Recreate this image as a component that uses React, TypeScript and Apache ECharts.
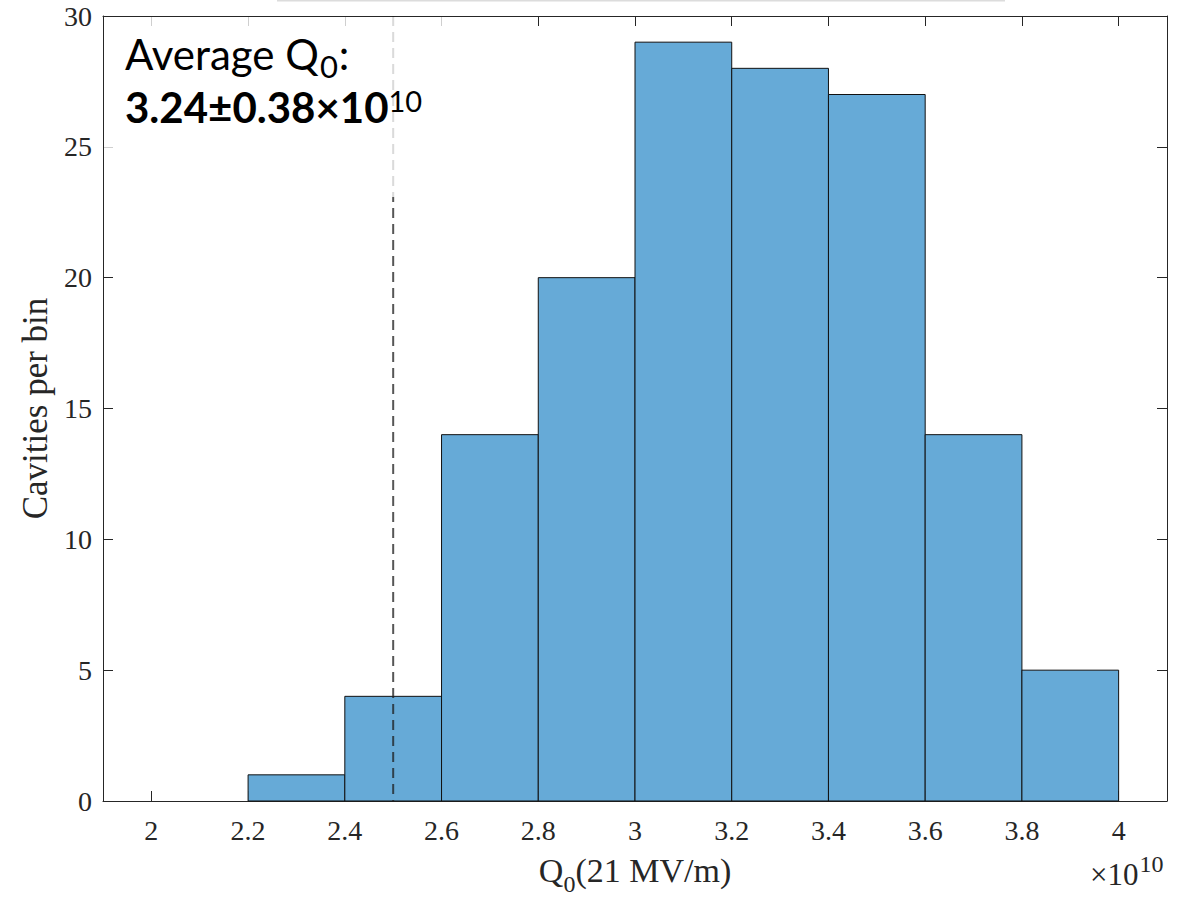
import React, { useEffect, useRef } from "react";
import * as echarts from "echarts";

const binStarts = [2.0, 2.2, 2.4, 2.6, 2.8, 3.0, 3.2, 3.4, 3.6, 3.8];
const binWidth = 0.2;
const counts = [0, 1, 4, 14, 20, 29, 28, 27, 14, 5];
const xTicks = [2, 2.2, 2.4, 2.6, 2.8, 3, 3.2, 3.4, 3.6, 3.8, 4];
const meanLine = 2.5;

const serif = "'Liberation Serif', 'Times New Roman', serif";
const axisColor = "#262626";

export default function App() {
  const ref = useRef<HTMLDivElement>(null);
  useEffect(() => {
    if (!ref.current) return;
    const chart = echarts.init(ref.current, null, { renderer: "svg" });
    const data = binStarts.map((s, i) => [s, s + binWidth, counts[i]]);
    const xAxisCommon = {
      type: "value",
      min: 1.9,
      max: 4.1,
      axisLine: { show: true, onZero: false, lineStyle: { color: axisColor, width: 1 } },
      axisTick: { show: true, inside: true, length: 10, customValues: xTicks, lineStyle: { color: axisColor } },
      splitLine: { show: false },
    };
    const yAxisCommon = {
      type: "value",
      min: 0,
      max: 30,
      interval: 5,
      axisLine: { show: true, onZero: false, lineStyle: { color: axisColor, width: 1 } },
      axisTick: { show: true, inside: true, length: 10, lineStyle: { color: axisColor } },
      splitLine: { show: false },
    };
    chart.setOption({
      animation: false,
      grid: { left: 103, right: 26, top: 16, bottom: 97, containLabel: false, outerBoundsMode: "none" },
      xAxis: [
        {
          ...xAxisCommon,
          position: "bottom",
          axisLabel: {
            customValues: xTicks,
            fontFamily: serif,
            fontSize: 28,
            color: axisColor,
            margin: 15,
            formatter: (v: number) => String(Math.round(v * 10) / 10),
          },
          name: "{a|Q}{s|0}{a|(21 MV/m)}",
          nameLocation: "middle",
          nameGap: 52,
          nameTextStyle: {
            rich: {
              a: { fontFamily: serif, fontSize: 34, color: axisColor, verticalAlign: "top" },
              s: { fontFamily: serif, fontSize: 24, color: axisColor, verticalAlign: "top", padding: [19, 0, 0, 0] },
            },
          },
        },
        { ...xAxisCommon, position: "top", axisLabel: { show: false } },
      ],
      yAxis: [
        {
          ...yAxisCommon,
          position: "left",
          axisLabel: { fontFamily: serif, fontSize: 28, color: axisColor, margin: 11 },
          name: "Cavities per bin",
          nameLocation: "middle",
          nameGap: 48,
          nameTextStyle: { fontFamily: serif, fontSize: 35, color: axisColor },
        },
        { ...yAxisCommon, position: "right", axisLabel: { show: false } },
      ],
      series: [
        {
          type: "custom",
          xAxisIndex: 0,
          yAxisIndex: 0,
          data,
          encode: { x: [0, 1], y: 2 },
          renderItem: (params: any, api: any) => {
            const x0 = api.value(0);
            const x1 = api.value(1);
            const y = api.value(2);
            if (!y) return null;
            const p0 = api.coord([x0, y]);
            const p1 = api.coord([x1, 0]);
            return {
              type: "rect",
              shape: { x: p0[0], y: p0[1], width: p1[0] - p0[0], height: p1[1] - p0[1] },
              style: { fill: "#66aad7", stroke: "#111", lineWidth: 1 },
            };
          },
          z: 2,
        },
        {
          type: "custom",
          xAxisIndex: 0,
          yAxisIndex: 0,
          data: [[meanLine]],
          encode: { x: 0 },
          renderItem: (params: any, api: any) => {
            const top = api.coord([api.value(0), 30]);
            const bot = api.coord([api.value(0), 0]);
            return {
              type: "line",
              shape: { x1: top[0], y1: top[1], x2: bot[0], y2: bot[1] },
              style: { stroke: "rgba(30,30,30,0.75)", lineWidth: 2, lineDash: [10, 6] },
            };
          },
          z: 3,
        },
      ],
      graphic: [
        {
          type: "line",
          shape: { x1: 277, y1: 0.5, x2: 1005, y2: 0.5 },
          style: { stroke: "#dcdcdc", lineWidth: 2 },
          z: 100,
        },
        {
          type: "rect",
          shape: { x: 104, y: 17, width: 345, height: 180 },
          style: { fill: "rgba(255,255,255,0.78)" },
          z: 100,
        },
        {
          type: "text",
          x: 125,
          y: 33,
          z: 101,
          style: {
            text: "{n|Average Q}{s|0}{n|:}",
            rich: {
              n: { fontFamily: "Lato", fontSize: 42, fill: "#000", verticalAlign: "top" },
              s: { fontFamily: "Lato", fontSize: 31, fill: "#000", verticalAlign: "top", padding: [17, 1, 0, 1] },
            },
            fill: "#000",
          },
        },
        {
          type: "text",
          x: 125,
          y: 86,
          z: 101,
          style: {
            text: "{n|3.24±0.38×10}{s|10}",
            rich: {
              n: { fontFamily: "Lato", fontSize: 42, fontWeight: "bold", fill: "#000", verticalAlign: "top" },
              s: { fontFamily: "Lato", fontSize: 29, fill: "#000", verticalAlign: "top", padding: [0, 0, 0, 0] },
            },
            fill: "#000",
          },
        },
        {
          type: "text",
          x: 1090,
          y: 852,
          z: 101,
          style: {
            text: "{a|×10}{b|10}",
            rich: {
              a: { fontFamily: serif, fontSize: 31, fill: axisColor, verticalAlign: "top", padding: [7, 1, 0, 0] },
              b: { fontFamily: serif, fontSize: 24, fill: axisColor, verticalAlign: "top" },
            },
          },
        },
      ],
    });
    return () => chart.dispose();
  }, []);
  return <div ref={ref} style={{ width: 1193, height: 898, position: "absolute", left: 0, top: 0 }} />;
}
